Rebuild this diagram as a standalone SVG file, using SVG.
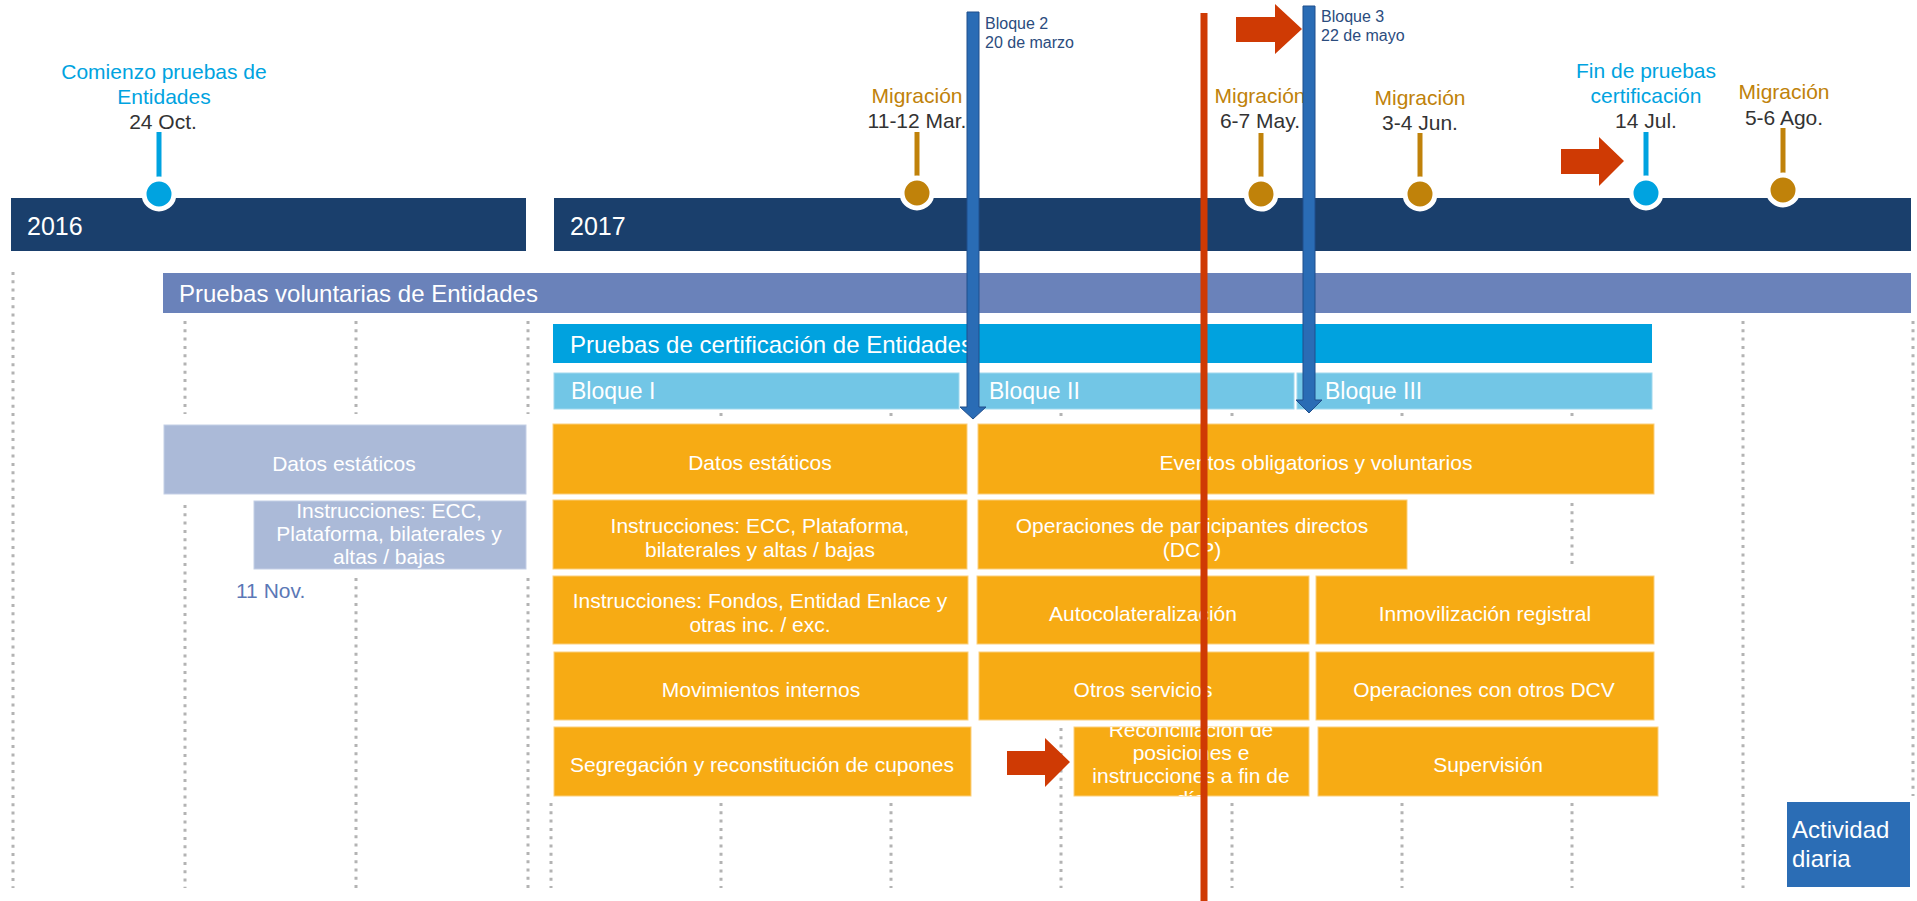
<svg xmlns="http://www.w3.org/2000/svg" width="1917" height="901" viewBox="0 0 1917 901">
<style>
text { font-family: "Liberation Sans", Arial, sans-serif; }
.grid { stroke:#b3b3b3; stroke-width:3; stroke-dasharray:3 5.3; fill:none; }
.bar { fill:#1a3f6c; }
.yr { fill:#fff; font-size:25px; }
.stemG { stroke:#c0820a; stroke-width:5; }
.stemB { stroke:#00a3e0; stroke-width:5; }
.dotG { fill:#c0820a; stroke:#fff; stroke-width:5; }
.dotB { fill:#00a3e0; stroke:#fff; stroke-width:5; }
.lblG { fill:#c0820a; font-size:21px; text-anchor:middle; }
.lblB { fill:#00a3e0; font-size:21px; text-anchor:middle; }
.date { fill:#333333; font-size:21px; text-anchor:middle; }
.band { fill:#fff; font-size:24px; }
.blq { fill:#72c6e6; stroke:#9fd8ee; stroke-width:1; }
.blqt { fill:#fff; font-size:23px; }
.ob { fill:#f7ab14; stroke:#fbcf7c; stroke-width:1; }
.gb { fill:#abbad8; stroke:#c4cfe6; stroke-width:1; }
.bt { fill:#fff; font-size:21px; text-anchor:middle; }
.barrow { fill:#2a6cb5; stroke:#1f4f8c; stroke-width:1; }
.rarrow { fill:#cf3a04; }
.note { fill:#2b4c7e; font-size:16px; }
</style>
<defs>
<clipPath id="clipReconc"><rect x="1074" y="727" width="235" height="69"/></clipPath>
</defs>
<rect x="0" y="0" width="1917" height="901" fill="#ffffff"/>

<g id="grid">
<line class="grid" x1="13" y1="272" x2="13" y2="888"/>
<line class="grid" x1="185" y1="321" x2="185" y2="414"/>
<line class="grid" x1="185" y1="505" x2="185" y2="888"/>
<line class="grid" x1="356" y1="321" x2="356" y2="414"/>
<line class="grid" x1="356" y1="578" x2="356" y2="888"/>
<line class="grid" x1="528" y1="321" x2="528" y2="414"/>
<line class="grid" x1="528" y1="578" x2="528" y2="888"/>
<line class="grid" x1="551" y1="803" x2="551" y2="888"/>
<line class="grid" x1="721" y1="413" x2="721" y2="417"/>
<line class="grid" x1="721" y1="803" x2="721" y2="888"/>
<line class="grid" x1="891" y1="413" x2="891" y2="417"/>
<line class="grid" x1="891" y1="803" x2="891" y2="888"/>
<line class="grid" x1="1061" y1="413" x2="1061" y2="417"/>
<line class="grid" x1="1061" y1="728" x2="1061" y2="888"/>
<line class="grid" x1="1232" y1="413" x2="1232" y2="417"/>
<line class="grid" x1="1232" y1="803" x2="1232" y2="888"/>
<line class="grid" x1="1402" y1="413" x2="1402" y2="417"/>
<line class="grid" x1="1402" y1="803" x2="1402" y2="888"/>
<line class="grid" x1="1572" y1="413" x2="1572" y2="417"/>
<line class="grid" x1="1572" y1="503" x2="1572" y2="565"/>
<line class="grid" x1="1572" y1="803" x2="1572" y2="888"/>
<line class="grid" x1="1743" y1="321" x2="1743" y2="888"/>
<line class="grid" x1="1913" y1="321" x2="1913" y2="796"/>
</g>

<g id="year-2016">
<rect class="bar" x="11" y="198" width="515" height="53"/>
<text class="yr" x="27" y="235">2016</text>
</g>
<g id="year-2017">
<rect class="bar" x="554" y="198" width="1357" height="53"/>
<text class="yr" x="570" y="235">2017</text>
</g>

<g id="ms-comienzo">
<line class="stemB" x1="159" y1="132" x2="159" y2="177"/>
<circle class="dotB" cx="159" cy="194" r="15"/>
<text class="lblB" x="164" y="79">Comienzo pruebas de</text>
<text class="lblB" x="164" y="104">Entidades</text>
<text class="date" x="163" y="129">24 Oct.</text>
</g>
<g id="ms-migracion-mar">
<line class="stemG" x1="917" y1="132" x2="917" y2="176"/>
<circle class="dotG" cx="917" cy="193" r="15"/>
<text class="lblG" x="917" y="103">Migración</text>
<text class="date" x="917" y="128">11-12 Mar.</text>
</g>
<g id="ms-migracion-may">
<line class="stemG" x1="1261" y1="133" x2="1261" y2="177"/>
<circle class="dotG" cx="1261" cy="194" r="15"/>
<text class="lblG" x="1260" y="103">Migración</text>
<text class="date" x="1260" y="128">6-7 May.</text>
</g>
<g id="ms-migracion-jun">
<line class="stemG" x1="1420" y1="133" x2="1420" y2="178"/>
<circle class="dotG" cx="1420" cy="194" r="15"/>
<text class="lblG" x="1420" y="105">Migración</text>
<text class="date" x="1420" y="130">3-4 Jun.</text>
</g>
<g id="ms-fin-pruebas">
<line class="stemB" x1="1646" y1="132" x2="1646" y2="176"/>
<circle class="dotB" cx="1646" cy="193" r="15"/>
<text class="lblB" x="1646" y="78">Fin de pruebas</text>
<text class="lblB" x="1646" y="103">certificación</text>
<text class="date" x="1646" y="128">14 Jul.</text>
</g>
<g id="ms-migracion-ago">
<line class="stemG" x1="1783" y1="128" x2="1783" y2="173"/>
<circle class="dotG" cx="1783" cy="190" r="15"/>
<text class="lblG" x="1784" y="99">Migración</text>
<text class="date" x="1784" y="125">5-6 Ago.</text>
</g>

<g id="band-voluntarias">
<rect x="163" y="273" width="1748" height="40" fill="#6a82ba"/>
<text class="band" x="179" y="302">Pruebas voluntarias de Entidades</text>
</g>
<g id="band-certificacion">
<rect x="553" y="324" width="1099" height="39" fill="#00a2df"/>
<text class="band" x="570" y="353">Pruebas de certificación de Entidades</text>
</g>
<g id="bloque-1">
<rect class="blq" x="554" y="373" width="405" height="36"/>
<text class="blqt" x="571" y="399">Bloque I</text>
</g>
<g id="bloque-2">
<rect class="blq" x="979" y="373" width="315" height="36"/>
<text class="blqt" x="989" y="399">Bloque II</text>
</g>
<g id="bloque-3">
<rect class="blq" x="1297" y="373" width="355" height="36"/>
<text class="blqt" x="1325" y="399">Bloque III</text>
</g>

<g id="vol-datos-estaticos">
<rect class="gb" x="164" y="425" width="362" height="69"/>
<text class="bt" x="344" y="471">Datos estáticos</text>
</g>
<g id="vol-instrucciones">
<rect class="gb" x="254" y="501" width="272" height="68"/>
<text class="bt" x="389" y="518">Instrucciones: ECC,</text>
<text class="bt" x="389" y="541">Plataforma, bilaterales y</text>
<text class="bt" x="389" y="564">altas / bajas</text>
</g>
<g id="label-11nov">
<text x="236" y="598" font-size="21" fill="#5b78b6">11 Nov.</text>
</g>

<g id="cert-datos-estaticos">
<rect class="ob" x="553" y="424" width="414" height="70"/>
<text class="bt" x="760" y="470">Datos estáticos</text>
</g>
<g id="cert-eventos">
<rect class="ob" x="978" y="424" width="676" height="70"/>
<text class="bt" x="1316" y="470">Eventos obligatorios y voluntarios</text>
</g>
<g id="cert-instr-ecc">
<rect class="ob" x="553" y="500" width="414" height="69"/>
<text class="bt" x="760" y="533">Instrucciones: ECC, Plataforma,</text>
<text class="bt" x="760" y="557">bilaterales y altas / bajas</text>
</g>
<g id="cert-dcp">
<rect class="ob" x="978" y="500" width="429" height="69"/>
<text class="bt" x="1192" y="533">Operaciones de participantes directos</text>
<text class="bt" x="1192" y="557">(DCP)</text>
</g>
<g id="cert-instr-fondos">
<rect class="ob" x="553" y="576" width="415" height="68"/>
<text class="bt" x="760" y="608">Instrucciones: Fondos, Entidad Enlace y</text>
<text class="bt" x="760" y="632">otras inc. / exc.</text>
</g>
<g id="cert-autocol">
<rect class="ob" x="977" y="576" width="332" height="68"/>
<text class="bt" x="1143" y="621">Autocolateralización</text>
</g>
<g id="cert-inmov">
<rect class="ob" x="1316" y="576" width="338" height="68"/>
<text class="bt" x="1485" y="621">Inmovilización registral</text>
</g>
<g id="cert-movimientos">
<rect class="ob" x="554" y="652" width="414" height="68"/>
<text class="bt" x="761" y="697">Movimientos internos</text>
</g>
<g id="cert-otros">
<rect class="ob" x="979" y="652" width="330" height="68"/>
<text class="bt" x="1143" y="697">Otros servicios</text>
</g>
<g id="cert-otros-dcv">
<rect class="ob" x="1316" y="652" width="338" height="68"/>
<text class="bt" x="1484" y="697">Operaciones con otros DCV</text>
</g>
<g id="cert-segregacion">
<rect class="ob" x="554" y="727" width="417" height="69"/>
<text class="bt" x="762" y="772">Segregación y reconstitución de cupones</text>
</g>
<g id="cert-reconciliacion">
<rect class="ob" x="1074" y="727" width="235" height="69"/>
<g clip-path="url(#clipReconc)">
<text class="bt" x="1191" y="737">Reconciliación de</text>
<text class="bt" x="1191" y="760">posiciones e</text>
<text class="bt" x="1191" y="783">instrucciones a fin de</text>
<text class="bt" x="1191" y="806">día</text>
</g>
</g>
<g id="cert-supervision">
<rect class="ob" x="1318" y="727" width="340" height="69"/>
<text class="bt" x="1488" y="772">Supervisión</text>
</g>
<g id="actividad-diaria">
<rect x="1787" y="802" width="123" height="85" fill="#2b6db5"/>
<text x="1792" y="838" font-size="24" fill="#fff">Actividad</text>
<text x="1792" y="867" font-size="24" fill="#fff">diaria</text>
</g>

<g id="connectors">
<g id="arrow-bloque2">
<path class="barrow" d="M967,12 H979 V407 H986 L973,419 L960,407 H967 Z"/>
<text class="note" x="985" y="29">Bloque 2</text>
<text class="note" x="985" y="48">20 de marzo</text>
</g>
<g id="arrow-bloque3">
<path class="barrow" d="M1303,6 H1315 V400 H1322 L1309,413 L1296,400 H1303 Z"/>
<text class="note" x="1321" y="22">Bloque 3</text>
<text class="note" x="1321" y="41">22 de mayo</text>
</g>
<line id="today-line" x1="1204" y1="13" x2="1204" y2="901" stroke="#cf3a04" stroke-width="7"/>
<polygon class="rarrow" points="1236,17 1275,17 1275,4 1302,29 1275,54 1275,42 1236,42"/>
<polygon class="rarrow" points="1561,149 1599,149 1599,137 1624,161 1599,186 1599,174 1561,174"/>
<polygon class="rarrow" points="1007,751 1045,751 1045,738 1070,762 1045,787 1045,775 1007,775"/>
</g>
</svg>
